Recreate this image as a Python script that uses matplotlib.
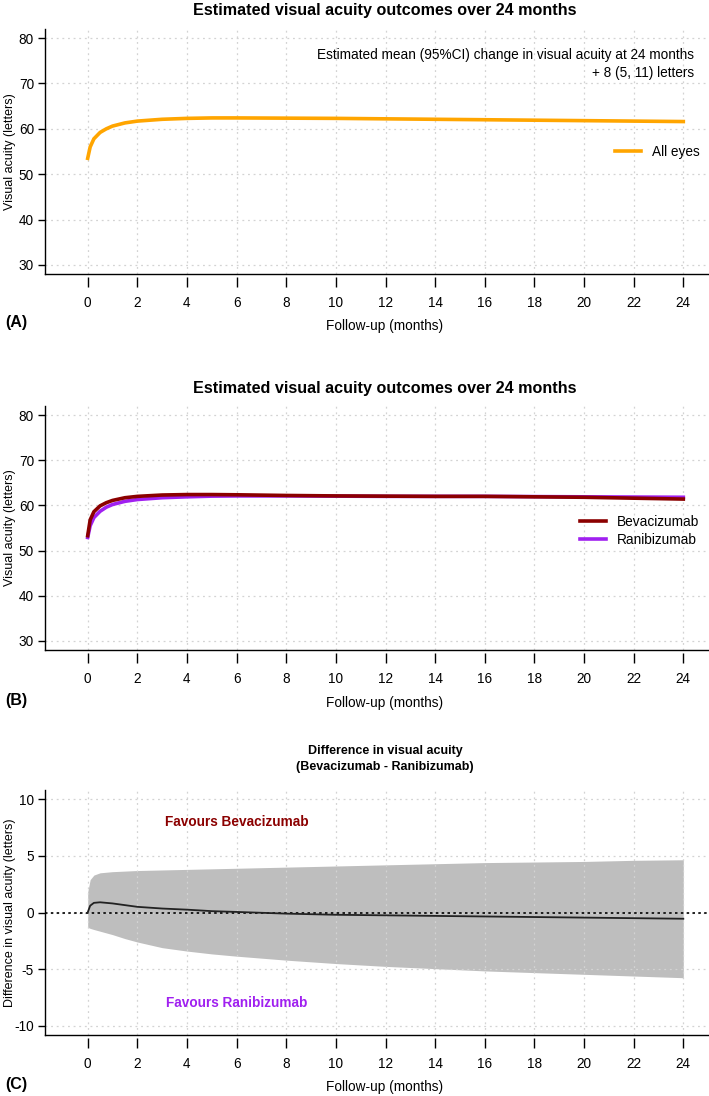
import matplotlib
matplotlib.use('Agg')
import matplotlib.pyplot as plt
import numpy as np

plt.rcParams['font.family'] = ['Liberation Sans', 'DejaVu Sans']
plt.rcParams['axes.unicode_minus'] = False

# 数据
months = [0, 0.1, 0.25, 0.5, 0.75, 1, 1.5, 2, 3, 4, 5, 6, 8, 10, 12, 14, 16, 18, 20, 22, 24]
all_eyes = [53.5, 56.0, 57.8, 59.2, 60.0, 60.6, 61.3, 61.7, 62.1, 62.3, 62.4, 62.4, 62.35,
            62.3, 62.2, 62.1, 62.0, 61.9, 61.8, 61.7, 61.6]
bevacizumab = [53.3, 56.8, 58.6, 59.9, 60.6, 61.1, 61.7, 62.0, 62.3, 62.4, 62.4, 62.35, 62.2,
               62.1, 62.05, 62.0, 62.0, 61.9, 61.8, 61.6, 61.4]
ranibizumab = [52.9, 55.5, 57.3, 58.7, 59.6, 60.2, 60.9, 61.3, 61.7, 61.9, 62.05, 62.1, 62.1,
               62.05, 62.0, 62.0, 62.0, 61.95, 61.9, 61.85, 61.8]
diff_mean = [0.0, 0.6, 0.85, 0.9, 0.85, 0.8, 0.65, 0.5, 0.35, 0.25, 0.12, 0.05, -0.1,
             -0.2, -0.25, -0.3, -0.35, -0.4, -0.45, -0.5, -0.55]
diff_upper = [1.8, 2.9, 3.3, 3.5, 3.55, 3.6, 3.65, 3.7, 3.75, 3.8, 3.85, 3.9, 4.0,
              4.1, 4.2, 4.3, 4.4, 4.45, 4.5, 4.6, 4.65]
diff_lower = [-1.3, -1.4, -1.5, -1.65, -1.8, -1.95, -2.3, -2.6, -3.1, -3.4, -3.65, -3.85, -4.2,
              -4.5, -4.75, -4.95, -5.15, -5.3, -5.45, -5.6, -5.75]

x_ticks = list(range(0, 25, 2))
va_ticks = [30, 40, 50, 60, 70, 80]
diff_ticks = [-10, -5, 0, 5, 10]

W, H = 709, 1096
FS = 9.8
fig = plt.figure(figsize=(W / 100, H / 100), dpi=100)


def make_axes(top, bottom, ylim, yticks):
    # 像素坐标 -> 图形坐标（右边超出画布，模拟被裁剪的R图）
    left, right = 45, 726
    ax = fig.add_axes([left / W, 1 - bottom / H, (right - left) / W, (bottom - top) / H])
    ax.set_xlim(-1.72, 25.72)
    ax.set_ylim(*ylim)
    ax.spines['top'].set_visible(False)
    ax.spines['right'].set_visible(False)
    for s in ['left', 'bottom']:
        ax.spines[s].set_linewidth(1.0)
    ax.set_xticks([])
    ax.set_yticks(yticks)
    ax.tick_params(axis='y', length=5, width=1, pad=3, labelsize=FS)
    for t in x_ticks:
        ax.axvline(t, color='#d3d3d3', ls=(0, (1.5, 3)), lw=0.9, zorder=1)
    for t in yticks:
        ax.axhline(t, color='#d3d3d3', ls=(0, (1.5, 3)), lw=0.9, zorder=1)
    # 与边框分离的x轴刻度
    sec = ax.secondary_xaxis(-3 / (bottom - top))
    sec.spines['bottom'].set_visible(False)
    sec.set_xticks(x_ticks)
    sec.tick_params(axis='x', length=7, width=1, pad=7, labelsize=FS)
    return ax


# (A)
axA = make_axes(29, 274, (28, 82), va_ticks)
axA.plot(months, all_eyes, color='#FFA500', lw=2.6, label='All eyes', zorder=3)
axA.text(24.43, 76.3, 'Estimated mean (95%CI) change in visual acuity at 24 months',
         ha='right', va='center', fontsize=FS)
axA.text(24.43, 72.4, '+ 8 (5, 11) letters', ha='right', va='center', fontsize=FS)
axA.legend(loc='center left', bbox_to_anchor=(0.837, 0.498), frameon=False, fontsize=FS,
           handlelength=1.9, handletextpad=0.8, borderpad=0, borderaxespad=0)

# (B)
axB = make_axes(406, 650, (28, 82), va_ticks)
axB.plot(months, ranibizumab, color='#A020F0', lw=2.6, label='Ranibizumab', zorder=3)
axB.plot(months, bevacizumab, color='#8B0000', lw=2.6, label='Bevacizumab', zorder=4)
h, l = axB.get_legend_handles_labels()
axB.legend(h[::-1], l[::-1], loc='center left', bbox_to_anchor=(0.786, 0.488), frameon=False,
           fontsize=FS, handlelength=1.9, handletextpad=0.8, borderpad=0, borderaxespad=0,
           labelspacing=0.25)

# (C)
axC = make_axes(790, 1035, (-10.8, 10.8), diff_ticks)
axC.fill_between(months, diff_lower, diff_upper, color='#bebebe', lw=0, zorder=0.5)
axC.plot(months, diff_mean, color='#222222', lw=1.3, zorder=3)
axC.axhline(0, color='black', ls=(0, (1.5, 2)), lw=1.2, zorder=2)
axC.text(6, 8, 'Favours Bevacizumab', color='#8B0000', fontsize=FS, fontweight='bold',
         ha='center', va='center')
axC.text(6, -8, 'Favours Ranibizumab', color='#A020F0', fontsize=FS, fontweight='bold',
         ha='center', va='center')

# 标题与标签
cx = 385 / W
fig.text(cx, 1 - 11 / H, 'Estimated visual acuity outcomes over 24 months',
         ha='center', va='center', fontsize=11.6, fontweight='bold')
fig.text(cx, 1 - 388 / H, 'Estimated visual acuity outcomes over 24 months',
         ha='center', va='center', fontsize=11.6, fontweight='bold')
fig.text(cx, 1 - 751 / H, 'Difference in visual acuity', ha='center', va='center',
         fontsize=9, fontweight='bold')
fig.text(cx, 1 - 767 / H, '(Bevacizumab - Ranibizumab)', ha='center', va='center',
         fontsize=9, fontweight='bold')

for yc, lab in [(151.5, 'Visual acuity (letters)'), (528, 'Visual acuity (letters)'),
                (912.5, 'Difference in visual acuity (letters)')]:
    fig.text(10 / W, 1 - yc / H, lab, rotation=90, ha='center', va='center', fontsize=9)

for yb, pl in [(326, '(A)'), (703, '(B)'), (1087, '(C)')]:
    fig.text(cx, 1 - yb / H, 'Follow-up (months)', ha='center', va='center', fontsize=FS)
    fig.text(5 / W, 1 - (yb - 3) / H, pl, ha='left', va='center', fontsize=11.6,
             fontweight='bold')

fig.savefig('out.png', dpi=100)
